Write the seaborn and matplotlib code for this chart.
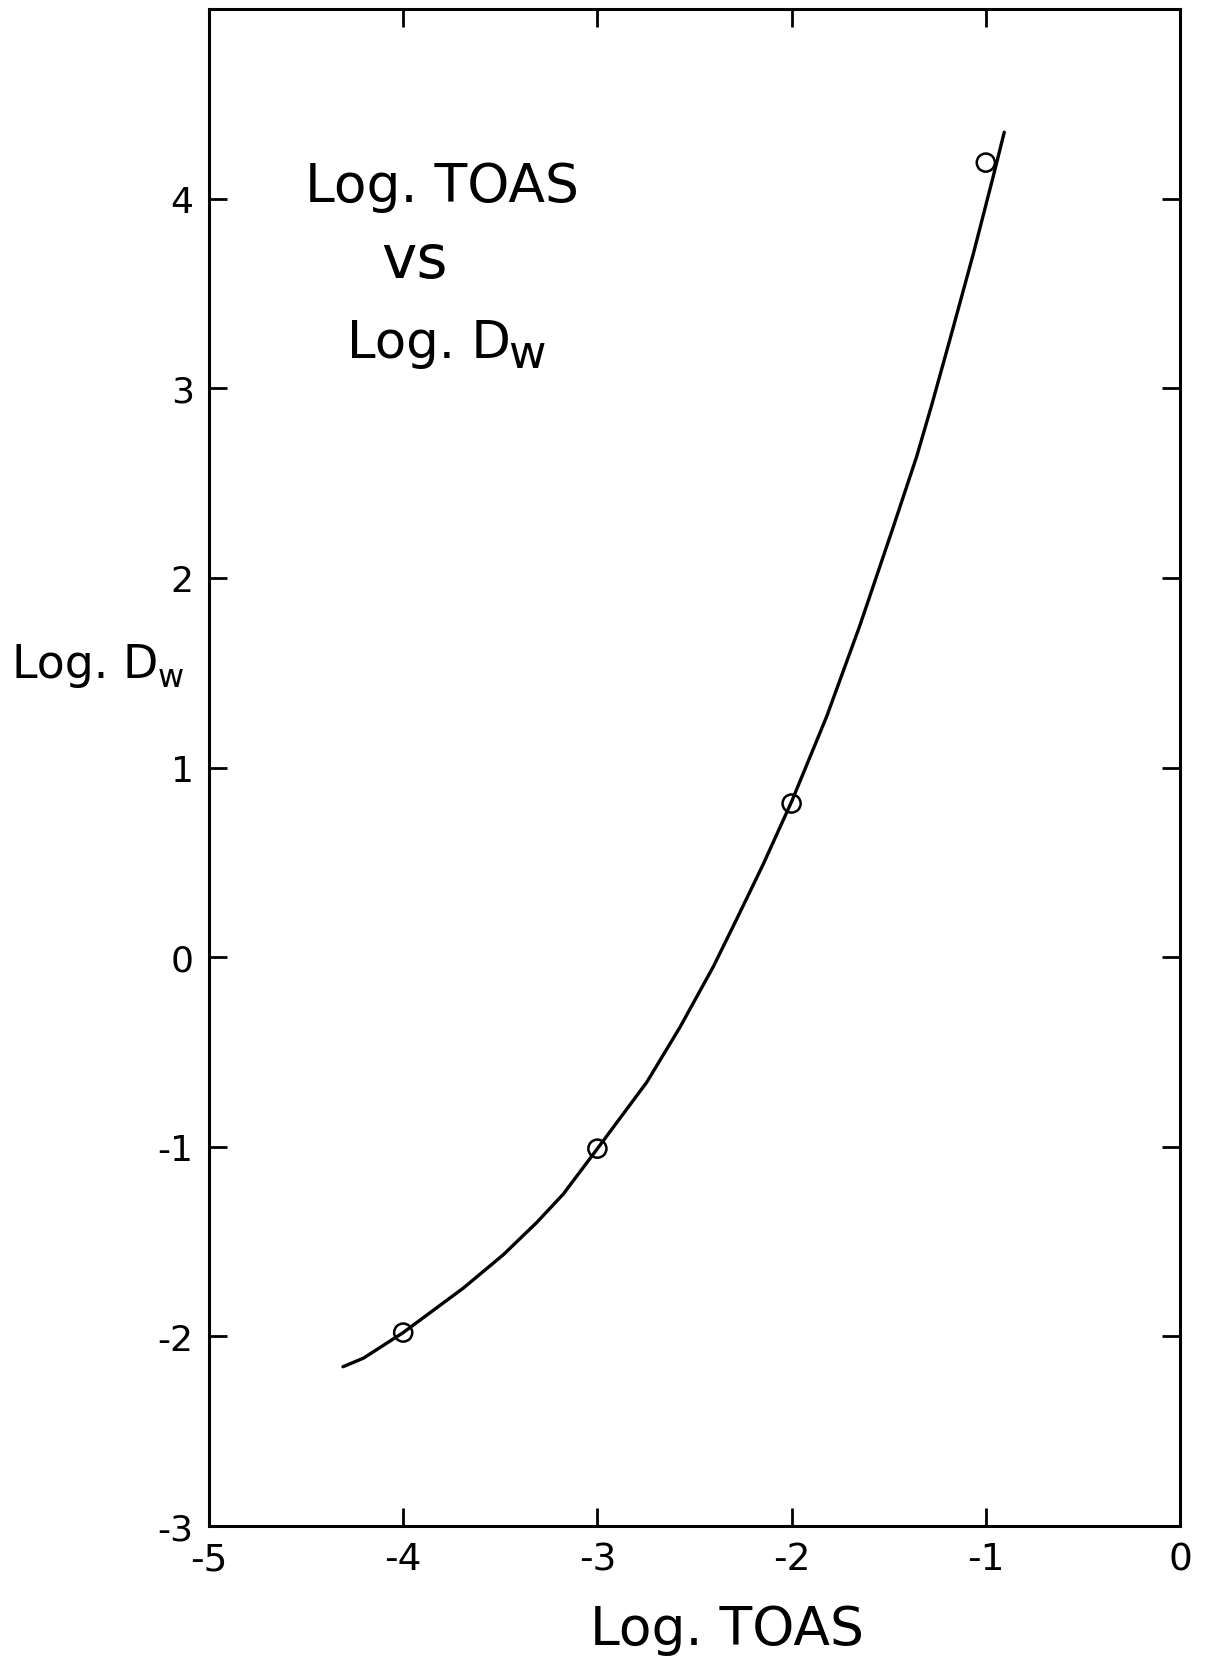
import matplotlib
matplotlib.use("Agg")
import matplotlib.pyplot as plt
import seaborn as sns
import pandas as pd

# ---- data ----
point_x = [-4.0, -3.0, -2.0, -1.0]
point_y = [-1.98, -1.01, 0.81, 4.19]

curve_x = [-4.31, -4.205, -4.0, -3.69, -3.485, -3.313, -3.176, -3.0, -2.746,
           -2.575, -2.403, -2.283, -2.146, -2.0, -1.819, -1.648, -1.476,
           -1.356, -1.279, -1.184, -1.064, -0.961, -0.905]
curve_y = [-2.16, -2.115, -1.98, -1.745, -1.57, -1.40, -1.25, -1.01, -0.66,
           -0.37, -0.05, 0.20, 0.49, 0.82, 1.27, 1.75, 2.27,
           2.64, 2.91, 3.26, 3.71, 4.12, 4.35]

x_ticks = [-5, -4, -3, -2, -1, 0]
y_ticks = [-3, -2, -1, 0, 1, 2, 3, 4]

sns.set_theme(style="white")
plt.rcParams["font.family"] = ["DejaVu Sans"]
plt.rcParams["axes.unicode_minus"] = False
plt.rcParams["text.color"] = "black"
plt.rcParams["xtick.color"] = "black"
plt.rcParams["ytick.color"] = "black"

W, H = 1206, 1665
fig = plt.figure(figsize=(W / 100, H / 100), dpi=100)
L, R, T, B = 209, 1180, 10, 1527
ax = fig.add_axes([L / W, 1 - B / H, (R - L) / W, (B - T) / H])

curve = pd.DataFrame({"x": curve_x, "y": curve_y})
pts = pd.DataFrame({"x": point_x, "y": point_y})
sns.lineplot(data=curve, x="x", y="y", ax=ax, color="black", linewidth=2.4,
             sort=False, estimator=None, solid_joinstyle="round",
             solid_capstyle="round")
sns.scatterplot(data=pts, x="x", y="y", ax=ax, marker="o", s=170,
                facecolors="none", edgecolor="black", linewidth=1.8, zorder=5)

ax.set_xlim(-5, 0)
ax.set_ylim(-3, 5)
ax.set_xticks(x_ticks)
ax.set_yticks(y_ticks)
ax.set_xticklabels([str(v) for v in x_ticks])
ax.set_yticklabels([str(v) for v in y_ticks])
ax.set_xlabel("")
ax.set_ylabel("")
for s in ax.spines.values():
    s.set_visible(True)
    s.set_color("black")
    s.set_linewidth(2.2)
ax.tick_params(axis="both", which="both", direction="in", length=13, width=2,
               colors="black", top=True, bottom=True,
               left=True, right=True, labeltop=False, labelright=False)
ax.tick_params(axis="x", pad=11, labelsize=27)
ax.tick_params(axis="y", pad=11, labelsize=26)

def px(x, y):
    return x / W, 1 - y / H

fig.text(*px(442, 202), "Log. TOAS", ha="center", va="baseline", fontsize=38.5)
fig.text(*px(414, 278), "vs", ha="center", va="baseline", fontsize=43)
fig.text(*px(590, 1645), "Log. TOAS", ha="left", va="baseline", fontsize=38.5)

t_ann = fig.text(*px(347, 358), "Log. D", ha="left", va="baseline", fontsize=37)
t_lab = fig.text(*px(12, 678), "Log. D", ha="left", va="baseline", fontsize=33)

fig.canvas.draw()
rend = fig.canvas.get_renderer()
e1 = t_ann.get_window_extent(rend)
fig.text((e1.x1 - 3) / W, 1 - 368 / H, "w", ha="left", va="baseline",
         fontsize=33)
e2 = t_lab.get_window_extent(rend)
fig.text((e2.x1 - 1) / W, 1 - 687 / H, "w", ha="left", va="baseline",
         fontsize=23)

fig.savefig("out.png", dpi=100, facecolor="white")
